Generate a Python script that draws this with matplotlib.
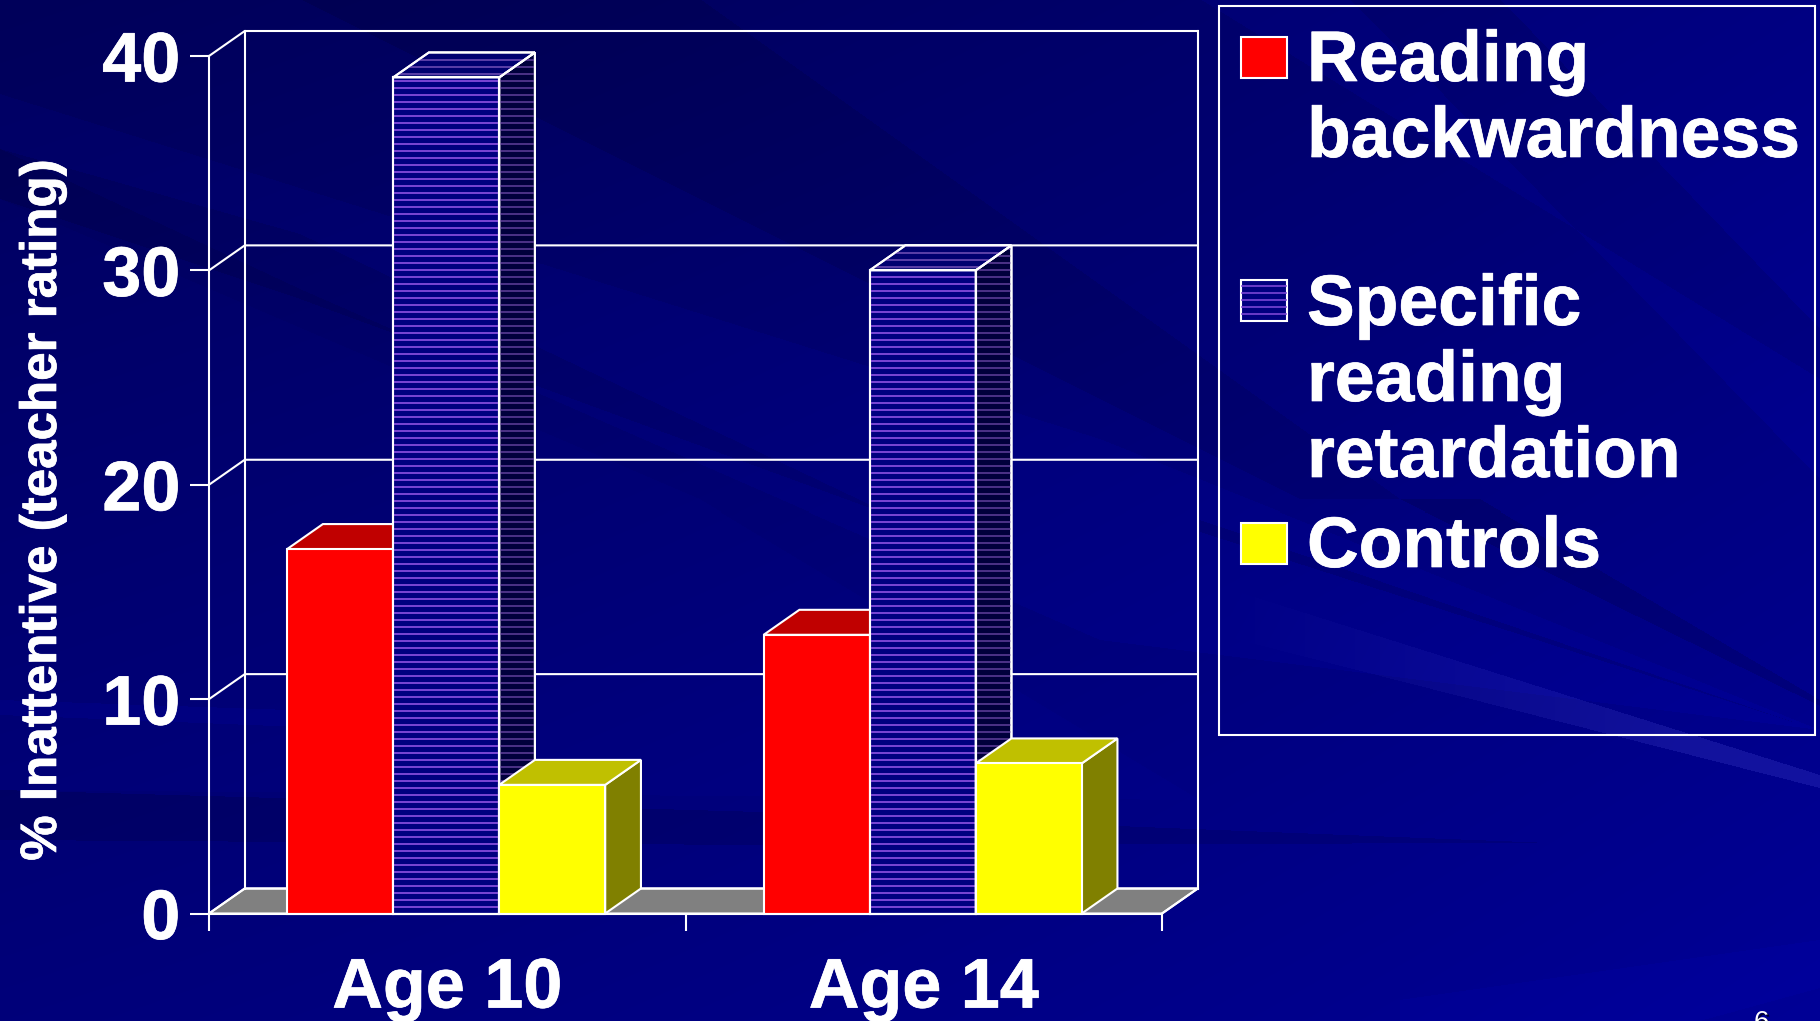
import numpy as np
import matplotlib
matplotlib.use('Agg')
import matplotlib.pyplot as plt
import matplotlib.patheffects as pe
from matplotlib.patches import Polygon, Rectangle
from matplotlib.path import Path

W, H = 1820, 1021

# data
ages = ['Age 10', 'Age 14']
reading_backwardness = [17, 13]
specific_retardation = [39, 30]
controls = [6, 7]
y_ticks = [0, 10, 20, 30, 40]
legend_lines = [['Reading', 'backwardness'], ['Specific', 'reading', 'retardation'], ['Controls']]

WHITE = '#ffffff'
STRIPE = '#7b45d5'
BAR_W = 0.2225
DX, DY = 0.075, 1.166
STEP = 0.3263
LW = 1.5
THICK = [pe.withStroke(linewidth=0.5, foreground=WHITE)]

plt.rcParams['font.family'] = ['Liberation Sans', 'DejaVu Sans']
plt.rcParams['font.weight'] = 'bold'


# slide background, rays are approximated
def make_background():
    yy, xx = np.mgrid[0:H, 0:W]
    img = np.zeros((H, W, 3))
    img[..., 2] = 90 + 32 * yy / H + 18 * xx / W + 10 * (xx / W) ** 2
    pts = np.c_[xx.ravel() + 0.5, yy.ravel() + 0.5]
    rays = [
        ([(0, 95), (0, 150), (300, 290), (1100, 640), (1820, 730), (1100, 440)], 8),
        ([(0, 150), (0, 200), (300, 300), (900, 520), (300, 235)], -10),
        ([(0, 200), (0, 790), (1200, 800), (700, 500)], 4),
        ([(1400, 500), (1480, 500), (1820, 700), (1820, 706)], -16),
        ([(1200, 520), (1200, 532), (1793, 722)], -14),
        ([(300, 0), (700, 0), (1400, 500), (1300, 500)], -10),
        ([(0, 790), (0, 840), (760, 845), (1550, 843), (760, 812)], -14),
        ([(0, 700), (0, 715), (500, 735), (290, 710)], 10),
        ([(1200, 0), (1350, 0), (1820, 480), (1820, 380)], 10),
        ([(1500, 0), (1820, 0), (1820, 330)], 12),
        ([(1400, 1000), (1820, 940), (1820, 988), (1700, 1021), (1400, 1021)], 6),
    ]
    for poly, delta in rays:
        mask = Path(poly).contains_points(pts).reshape(H, W)
        img[..., 2][mask] += delta
    # pale streak, fades out to the left
    mask = Path([(1200, 580), (1820, 775), (1820, 788), (1200, 630)]).contains_points(pts).reshape(H, W)
    fade = np.clip((xx - 1230) / 450, 0, 1)
    img[..., 0][mask] += (18 * fade)[mask]
    img[..., 1][mask] += (18 * fade)[mask]
    img[..., 2][mask] += (18 * fade)[mask]
    return np.clip(img, 0, 255).astype(np.uint8)


# horizontal stripes clipped to a polygon
def stripes(axis, poly, y0, y1, color, lw=1.4, z=3):
    xs = [p[0] for p in poly]
    for yy in np.arange(y0, y1, STEP):
        ln, = axis.plot([min(xs), max(xs)], [yy, yy], color=color, lw=lw, zorder=z,
                        solid_capstyle='butt', clip_on=True)
        ln.set_clip_path(Polygon(poly, transform=axis.transData))


def draw_bar(axis, x0, v, front, top, side, striped=False):
    x1 = x0 + BAR_W
    face = [(x0, 0), (x1, 0), (x1, v), (x0, v)]
    top_f = [(x0, v), (x1, v), (x1 + DX, v + DY), (x0 + DX, v + DY)]
    side_f = [(x1, 0), (x1 + DX, DY), (x1 + DX, v + DY), (x1, v)]
    kw = dict(edgecolor=WHITE, linewidth=LW, zorder=3, clip_on=False, joinstyle='miter')
    axis.add_patch(Polygon(side_f, facecolor=side, **kw))
    axis.add_patch(Polygon(top_f, facecolor=top, **kw))
    axis.add_patch(Polygon(face, facecolor=front, **kw))
    if striped:
        stripes(axis, side_f, STEP, v + DY, '#4c3288')
        stripes(axis, top_f, v + STEP / 2, v + DY, '#5b3fa8')
        stripes(axis, face, STEP, v, STRIPE)
        for p in (side_f, top_f, face):
            axis.add_patch(Polygon(p, facecolor='none', **kw))


fig = plt.figure(figsize=(W / 100, H / 100), dpi=100)

bg = fig.add_axes([0, 0, 1, 1], zorder=0)
bg.imshow(make_background(), extent=(0, W, H, 0), aspect='auto', interpolation='nearest')
bg.axis('off')

ax = fig.add_axes([209 / W, 1 - 913.5 / H, (1162 - 209) / W, (913.5 - 56) / H], zorder=1)
ax.patch.set_alpha(0)
ax.set_xlim(0, 2)
ax.set_ylim(0, 40)

# floor and walls
ax.add_patch(Polygon([(0, 0), (2, 0), (2 + DX, DY), (DX, DY)], facecolor='#808080',
                     edgecolor=WHITE, linewidth=LW, clip_on=False, zorder=1))
for v in y_ticks:
    ax.plot([0, DX, 2 + DX], [v, v + DY, v + DY], color=WHITE, lw=LW, clip_on=False, zorder=2)
ax.plot([DX, DX], [DY, 40 + DY], color=WHITE, lw=LW, clip_on=False, zorder=2)
ax.plot([2 + DX, 2 + DX], [DY, 40 + DY], color=WHITE, lw=LW, clip_on=False, zorder=2)
ax.plot([2, 2 + DX], [0, DY], color=WHITE, lw=LW, clip_on=False, zorder=2)

# bars
for i in range(len(ages)):
    left = i + 0.164
    draw_bar(ax, left, reading_backwardness[i], '#ff0000', '#c00000', '#800000')
    draw_bar(ax, left + BAR_W, specific_retardation[i], '#000080', '#000070', '#00003c', striped=True)
    draw_bar(ax, left + 2 * BAR_W, controls[i], '#ffff00', '#c0c000', '#808000')

for s in ['top', 'right']:
    ax.spines[s].set_visible(False)
for s in ['left', 'bottom']:
    ax.spines[s].set_color(WHITE)
    ax.spines[s].set_linewidth(LW)
    ax.spines[s].set_zorder(4)
ax.set_yticks(y_ticks)
ax.set_yticklabels([str(v) for v in y_ticks], fontsize=50.5, color=WHITE, fontweight='bold')
ax.set_xticks([0, 1, 2])
ax.set_xticklabels([])
ax.set_xticks([0.5, 1.5], minor=True)
ax.set_xticklabels(ages, minor=True, fontsize=50.5, color=WHITE, fontweight='bold')
ax.tick_params(axis='y', length=13.7, width=LW, color=WHITE, pad=7)
ax.tick_params(axis='x', which='major', length=12, width=LW, color=WHITE)
ax.tick_params(axis='x', which='minor', length=0, pad=31)
for lab in ax.get_yticklabels():
    lab.set_path_effects(THICK)
for lab in ax.get_xticklabels(minor=True):
    lab.set_path_effects(THICK)

fig.text(56 / W, 1 - 510 / H, '% Inattentive (teacher rating)', rotation=90, rotation_mode='anchor',
         ha='center', va='baseline', color=WHITE, fontsize=36.8, fontweight='bold', path_effects=THICK)

# legend panel, in pixels of the slide
lg = fig.add_axes([0, 0, 1, 1], zorder=2)
lg.set_xlim(0, W)
lg.set_ylim(H, 0)
lg.axis('off')
lg.add_patch(Rectangle((1219, 6), 596, 729, facecolor='none', edgecolor=WHITE, linewidth=LW))

swatch_tops = [37, 280, 523]
swatch_cols = ['#ff0000', '#000080', '#ffff00']
baselines = [[81, 157], [325, 401, 477], [567]]
for top, col, rows, bases in zip(swatch_tops, swatch_cols, legend_lines, baselines):
    lg.add_patch(Rectangle((1241, top), 46, 41, facecolor=col, edgecolor=WHITE, linewidth=LW))
    if col == '#000080':
        for yy in range(top + 6, top + 40, 7):
            lg.plot([1242, 1286], [yy, yy], color=STRIPE, lw=1.2)
    for row, base in zip(rows, bases):
        lg.text(1307, base, row, color=WHITE, fontsize=51.5, fontweight='bold', va='baseline', ha='left',
                path_effects=THICK)

# page number, cut by the slide edge
lg.text(1756, 1032, '6', color='#000030', fontsize=20, fontweight='normal', va='baseline', ha='left', clip_on=True)
lg.text(1754, 1030, '6', color=WHITE, fontsize=20, fontweight='normal', va='baseline', ha='left', clip_on=True)

fig.savefig('out.png', dpi=100)
